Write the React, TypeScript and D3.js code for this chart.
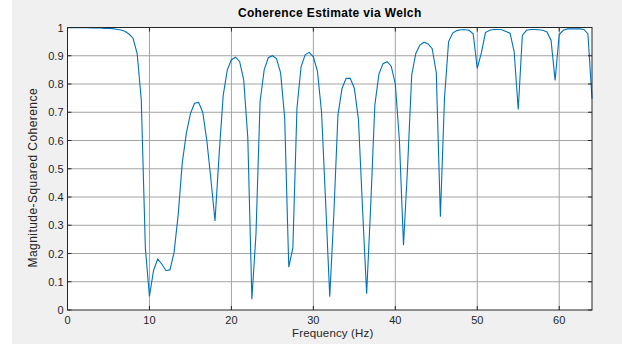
import React from 'react';
import * as d3 from 'd3';

// frequency bins, 0.5 Hz apart (fs = 128 Hz, nfft = 256)
const freqStep = 0.5;

// magnitude-squared coherence, one value per bin
const coherence = [
  0.999, 0.999, 0.999, 0.999, 0.999, 0.999, 0.998, 0.998, 0.998, 0.997,
  0.997, 0.996, 0.994, 0.991, 0.987, 0.977, 0.962, 0.908, 0.745, 0.22,
  0.048, 0.14, 0.18, 0.163, 0.14, 0.142, 0.203, 0.335, 0.52, 0.625,
  0.695, 0.732, 0.735, 0.7, 0.6, 0.462, 0.315, 0.55, 0.76, 0.85,
  0.886, 0.895, 0.88, 0.815, 0.61, 0.038, 0.27, 0.738, 0.85, 0.893,
  0.9, 0.89, 0.84, 0.68, 0.152, 0.22, 0.715, 0.861, 0.903, 0.912,
  0.896, 0.845, 0.7, 0.38, 0.047, 0.34, 0.69, 0.785, 0.82, 0.82,
  0.785, 0.675, 0.36, 0.058, 0.37, 0.725, 0.835, 0.872, 0.879, 0.863,
  0.8, 0.6, 0.229, 0.507, 0.832, 0.908, 0.938, 0.948, 0.942, 0.925,
  0.84, 0.33, 0.75, 0.95, 0.98, 0.989, 0.992, 0.992, 0.99, 0.978,
  0.855, 0.91, 0.982, 0.99, 0.993, 0.993, 0.992, 0.986, 0.98, 0.915,
  0.71, 0.972, 0.99, 0.993, 0.993, 0.992, 0.99, 0.984, 0.955, 0.813,
  0.975, 0.99, 0.995, 0.995, 0.995, 0.995, 0.993, 0.978, 0.748,
];

const xTicks = [0, 10, 20, 30, 40, 50, 60];
const yTicks = [0, 0.1, 0.2, 0.3, 0.4, 0.5, 0.6, 0.7, 0.8, 0.9, 1];

const W = 622;
const H = 348;
const font = 'Liberation Sans, Arial, Helvetica, sans-serif';
const ink = '#262626';

export default function App() {
  const left = 67.5, right = 592, top = 27.5, bottom = 310;

  const x = d3.scaleLinear().domain([0, 64]).range([left, right]);
  const y = d3.scaleLinear().domain([0, 1]).range([bottom, top]);

  const line = d3.line<number>()
    .x((_, i) => x(i * freqStep))
    .y(d => y(d));

  return (
    <svg width={W} height={H} style={{ position: 'absolute', left: 0, top: 0 }}>
      <rect x={0} y={0} width={W} height={H} fill="#ffffff" />
      <rect x={12} y={0} width={W - 12} height={344} fill="#f0f0f0" />
      <rect x={left} y={top} width={right - left} height={bottom - top} fill="#ffffff" />

      {/* grid */}
      <g stroke="#a3a3a3" strokeWidth={1}>
        {xTicks.slice(1).map(t => (
          <line key={'gx' + t} x1={x(t)} x2={x(t)} y1={top} y2={bottom} />
        ))}
        {yTicks.slice(1, -1).map(t => (
          <line key={'gy' + t} x1={left} x2={right} y1={y(t)} y2={y(t)} />
        ))}
      </g>

      {/* curve */}
      <path d={line(coherence) || ''} fill="none" stroke="#0072bd" strokeWidth={1.1} />

      {/* box + ticks */}
      <rect x={left} y={top} width={right - left} height={bottom - top} fill="none" stroke={ink} strokeWidth={1} />
      <g stroke={ink} strokeWidth={1}>
        {xTicks.map(t => (
          <g key={'tx' + t}>
            <line x1={x(t)} x2={x(t)} y1={bottom} y2={bottom - 4} />
            <line x1={x(t)} x2={x(t)} y1={top} y2={top + 4} />
          </g>
        ))}
        {yTicks.map(t => (
          <g key={'ty' + t}>
            <line x1={left} x2={left + 4} y1={y(t)} y2={y(t)} />
            <line x1={right} x2={right - 4} y1={y(t)} y2={y(t)} />
          </g>
        ))}
      </g>

      {/* tick labels */}
      <g fontFamily={font} fontSize={11} fill={ink}>
        {xTicks.map(t => (
          <text key={'lx' + t} x={x(t)} y={bottom + 14} textAnchor="middle">{t}</text>
        ))}
        {yTicks.map(t => (
          <text key={'ly' + t} x={left - 4} y={y(t) + 4} textAnchor="end">{t}</text>
        ))}
      </g>

      <text x={(left + right) / 2} y={17} textAnchor="middle" fontFamily={font}
        fontSize={12} fontWeight="bold" letterSpacing={0.35} fill="#000">Coherence Estimate via Welch</text>
      <text x={(left + right) / 2 + 3} y={337} textAnchor="middle" fontFamily={font}
        fontSize={11.5} letterSpacing={0.15} fill={ink}>Frequency (Hz)</text>
      <text transform={`translate(37,${(top + bottom) / 2 + 9}) rotate(-90)`} textAnchor="middle"
        fontFamily={font} fontSize={12} letterSpacing={0.45} fill={ink}>Magnitude-Squared Coherence</text>
    </svg>
  );
}
